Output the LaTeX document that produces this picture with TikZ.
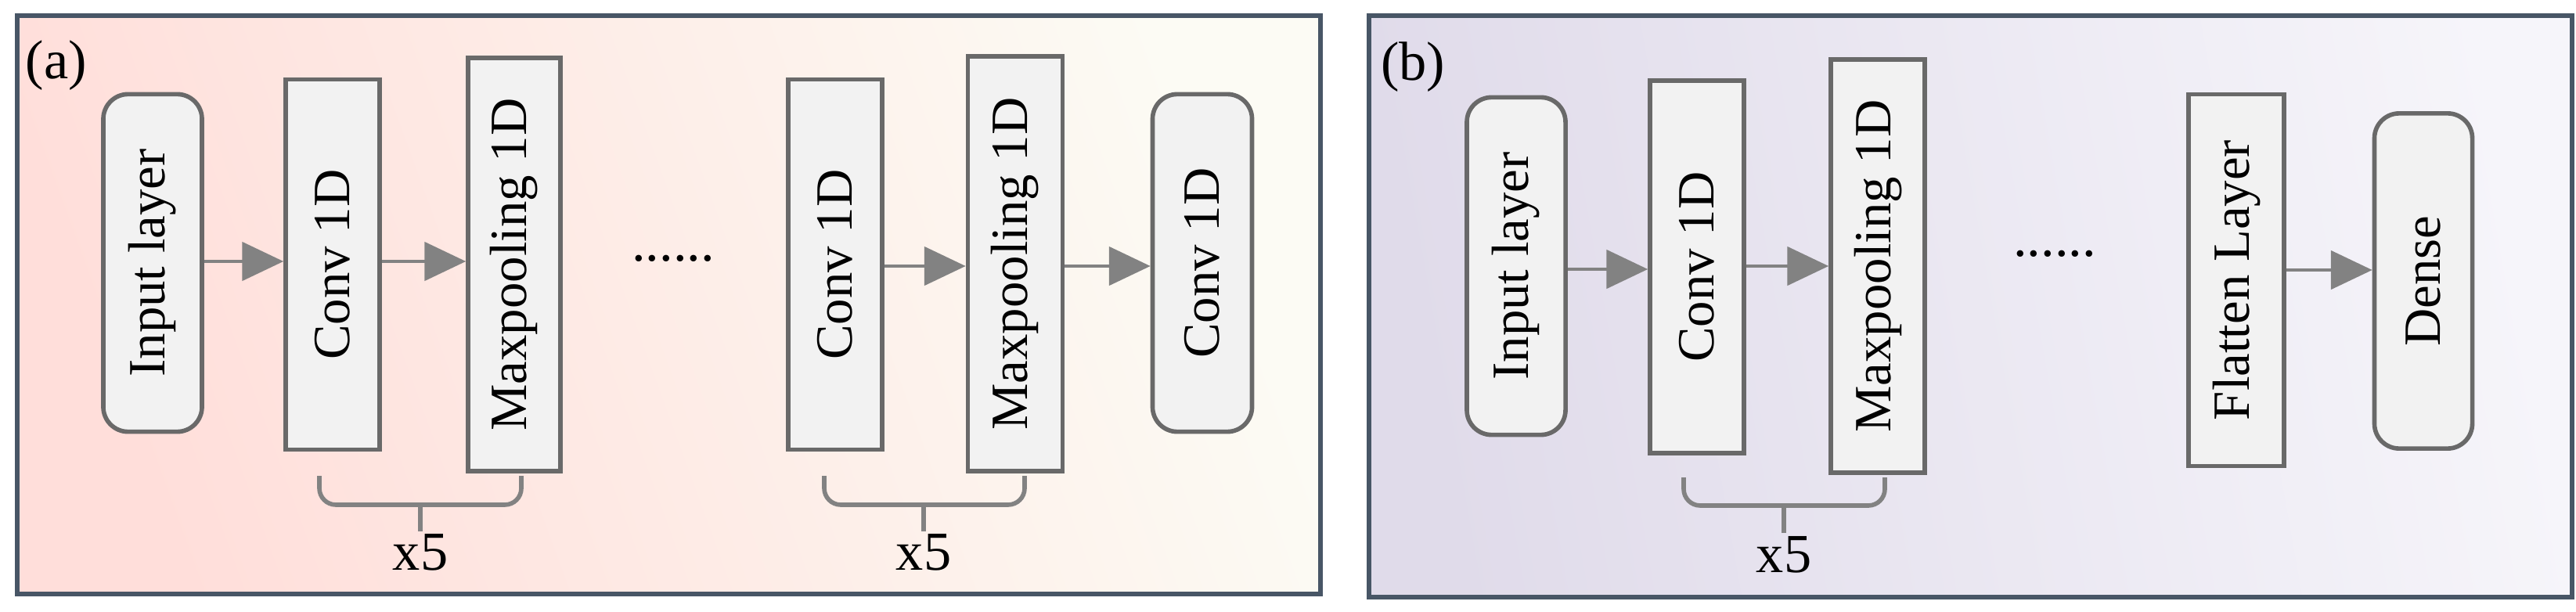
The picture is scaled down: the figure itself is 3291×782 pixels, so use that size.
\documentclass[tikz,border=0pt]{standalone}
\usepackage{fontspec}
\setmainfont{Liberation Serif}
\usetikzlibrary{arrows.meta}
\definecolor{frame}{RGB}{72,86,102}
\definecolor{boxdraw}{RGB}{105,105,105}
\definecolor{boxfill}{RGB}{242,242,242}
\definecolor{arr}{RGB}{130,130,130}
\newcommand{\vtxt}[1]{\rotatebox{90}{#1}}
\tikzset{
  lay/.style={draw=boxdraw, line width=1.6pt, fill=boxfill, inner sep=0pt,
     font=\fontsize{19}{19}\selectfont},
  rbox/.style={lay, rounded corners=9pt},
  conn/.style={draw=arr, line width=1.1pt, -{Triangle[length=15pt,width=14pt]}},
  brace/.style={draw=arr, line width=1.6pt, rounded corners=6pt},
  lbl/.style={font=\fontsize{20}{20}\selectfont},
}
\begin{document}
\begin{tikzpicture}[x=0.01cm,y=-0.01cm]
\useasboundingbox (0,0) rectangle (3291,782);
% panels
\shade[shading=axis, left color={rgb,255:red,255;green,222;blue,218}, right color={rgb,255:red,252;green,251;blue,244}, shading angle=110] (22,20) rectangle (1687,759);
\draw[frame, line width=1.8pt] (22,20) rectangle (1687,759);
\shade[shading=axis, left color={rgb,255:red,224;green,219;blue,234}, right color={rgb,255:red,246;green,245;blue,250}, shading angle=100] (1749,20) rectangle (3286,763);
\draw[frame, line width=1.8pt] (1749,20) rectangle (3286,763);
\node[lbl] (la) at (72,84) {(a)};
\node[lbl] (lb) at (1805,86) {(b)};
% panel a
\node[rbox, minimum height=4.31cm, minimum width=1.26cm] (a1) at (195,336) {\vtxt{Input layer}};
\node[lay, minimum height=4.73cm, minimum width=1.20cm] (a2) at (425,338) {\vtxt{Conv 1D}};
\node[lay, minimum height=5.28cm, minimum width=1.18cm] (a3) at (657,338) {\vtxt{Maxpooling 1D}};
\node[lbl] (ad) at (860,330) {......};
\node[lay, minimum height=4.73cm, minimum width=1.20cm] (a4) at (1067,338) {\vtxt{Conv 1D}};
\node[lay, minimum height=5.30cm, minimum width=1.21cm] (a5) at (1297,337) {\vtxt{Maxpooling 1D}};
\node[rbox, minimum height=4.31cm, minimum width=1.27cm] (a6) at (1536,336) {\vtxt{Conv 1D}};
\draw[conn] (a1.east |- 0,334) -- (a2.west |- 0,334);
\draw[conn] (a2.east |- 0,334) -- (a3.west |- 0,334);
\draw[conn] (a4.east |- 0,340) -- (a5.west |- 0,340);
\draw[conn] (a5.east |- 0,340) -- (a6.west |- 0,340);
\coordinate (ba1) at (408,608); \coordinate (ba2) at (666,608); \coordinate (bam) at (537,645); \coordinate (bat) at (537,679);
\draw[brace] (ba1) -- (ba1 |- bam) -- (ba2 |- bam) -- (ba2);
\draw[brace] (bam) -- (bat);
\node[lbl] (xa1) at (537,706) {x5};
\coordinate (bb1) at (1053,608); \coordinate (bb2) at (1309,608); \coordinate (bbm) at (1180,645); \coordinate (bbt) at (1180,679);
\draw[brace] (bb1) -- (bb1 |- bbm) -- (bb2 |- bbm) -- (bb2);
\draw[brace] (bbm) -- (bbt);
\node[lbl] (xa2) at (1180,706) {x5};
% panel b
\node[rbox, minimum height=4.31cm, minimum width=1.26cm] (b1) at (1937,340) {\vtxt{Input layer}};
\node[lay, minimum height=4.76cm, minimum width=1.20cm] (b2) at (2168,341) {\vtxt{Conv 1D}};
\node[lay, minimum height=5.28cm, minimum width=1.20cm] (b3) at (2399,340) {\vtxt{Maxpooling 1D}};
\node[lbl] (bd) at (2625,324) {......};
\node[lay, minimum height=4.75cm, minimum width=1.22cm] (b4) at (2857,358) {\vtxt{Flatten Layer}};
\node[rbox, minimum height=4.28cm, minimum width=1.25cm] (b5) at (3096,359) {\vtxt{Dense}};
\draw[conn] (b1.east |- 0,344) -- (b2.west |- 0,344);
\draw[conn] (b2.east |- 0,340) -- (b3.west |- 0,340);
\draw[conn] (b4.east |- 0,345) -- (b5.west |- 0,345);
\coordinate (bc1) at (2151,610); \coordinate (bc2) at (2408,610); \coordinate (bcm) at (2279,646); \coordinate (bct) at (2279,681);
\draw[brace] (bc1) -- (bc1 |- bcm) -- (bc2 |- bcm) -- (bc2);
\draw[brace] (bcm) -- (bct);
\node[lbl] (xb1) at (2279,709) {x5};
\end{tikzpicture}
\end{document}
